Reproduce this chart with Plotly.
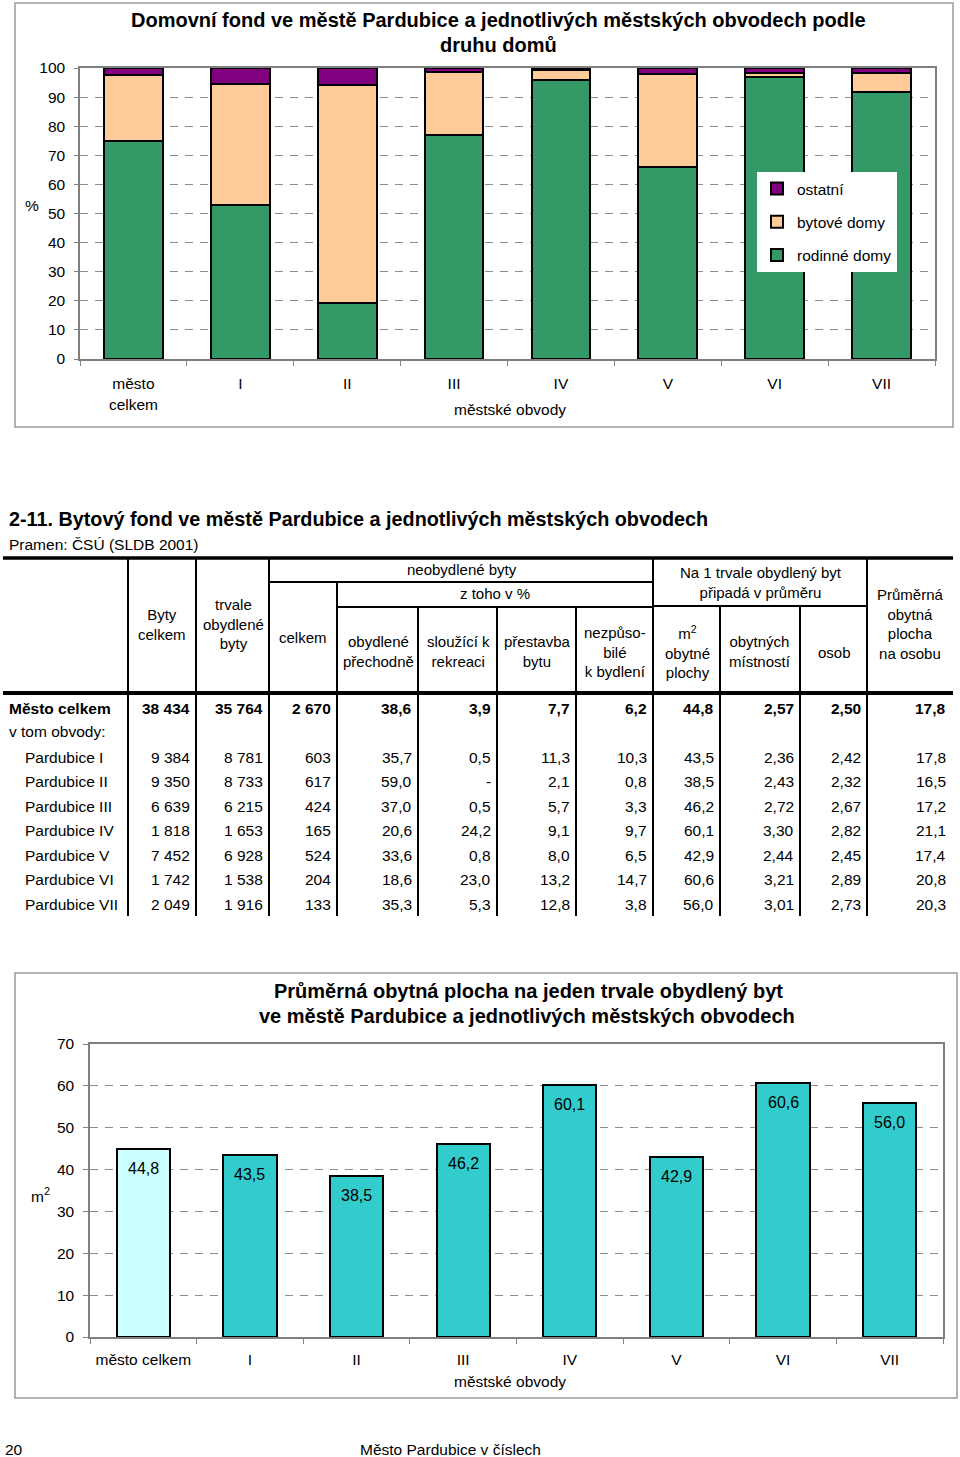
import plotly.graph_objects as go

W, H = 960, 1457
FONT = "Liberation Sans, Arial, sans-serif"

# ---------------- data: top chart (share of houses by type, %) ----------------
categories_top = ["město<br>celkem", "I", "II", "III", "IV", "V", "VI", "VII"]
rodinne_domy = [75.0, 52.8, 19.2, 77.1, 95.9, 66.1, 97.0, 91.6]
bytove_domy = [22.5, 41.6, 75.1, 21.6, 3.3, 31.7, 1.2, 6.8]
ostatni = [2.5, 5.6, 5.7, 1.3, 0.8, 2.2, 1.8, 1.6]
top_ticks = [0, 10, 20, 30, 40, 50, 60, 70, 80, 90, 100]

# ---------------- data: table 2-11 ----------------
row_labels = ["Město celkem", "v tom obvody:", "Pardubice I", "Pardubice II", "Pardubice III",
              "Pardubice IV", "Pardubice V", "Pardubice VI", "Pardubice VII"]
byty_celkem = [38434, 9384, 9350, 6639, 1818, 7452, 1742, 2049]
trvale_obydlene = [35764, 8781, 8733, 6215, 1653, 6928, 1538, 1916]
neobydlene_celkem = [2670, 603, 617, 424, 165, 524, 204, 133]
obydlene_prechodne = [38.6, 35.7, 59.0, 37.0, 20.6, 33.6, 18.6, 35.3]
slouzici_k_rekreaci = [3.9, 0.5, None, 0.5, 24.2, 0.8, 23.0, 5.3]
prestavba_bytu = [7.7, 11.3, 2.1, 5.7, 9.1, 8.0, 13.2, 12.8]
nezpusobile = [6.2, 10.3, 0.8, 3.3, 9.7, 6.5, 14.7, 3.8]
m2_obytne_plochy = [44.8, 43.5, 38.5, 46.2, 60.1, 42.9, 60.6, 56.0]
obytnych_mistnosti = [2.57, 2.36, 2.43, 2.72, 3.30, 2.44, 3.21, 3.01]
osob = [2.50, 2.42, 2.32, 2.67, 2.82, 2.45, 2.89, 2.73]
plocha_na_osobu = [17.8, 17.8, 16.5, 17.2, 21.1, 17.4, 20.8, 20.3]

# ---------------- data: bottom chart ----------------
categories_bottom = ["město celkem", "I", "II", "III", "IV", "V", "VI", "VII"]
bottom_values = m2_obytne_plochy
bottom_ticks = [0, 10, 20, 30, 40, 50, 60, 70]


def px(x):
    return x / W


def py(y):
    return 1 - y / H


def fmt_int(v):
    return f"{v:,}".replace(",", " ")


def fmt_dec(v, d):
    if v is None:
        return "-"
    return f"{v:.{d}f}".replace(".", ",")


fig = go.Figure()

# ---------------- top stacked bars ----------------
for name, vals, col, rank in [("rodinné domy", rodinne_domy, "#339966", 3),
                              ("bytové domy", bytove_domy, "#FFCC99", 2),
                              ("ostatní", ostatni, "#800080", 1)]:
    fig.add_trace(go.Bar(
        x=categories_top, y=vals, name=name, width=0.55,
        marker=dict(color=col, line=dict(color="black", width=2)),
        xaxis="x", yaxis="y", legendgroup=name, legendrank=rank, hoverinfo="skip"))

# ---------------- bottom bars ----------------
bottom_colors = ["#CCFFFF"] + ["#33CCCC"] * (len(bottom_values) - 1)
fig.add_trace(go.Bar(
    x=categories_bottom, y=bottom_values, width=0.5,
    marker=dict(color=bottom_colors, line=dict(color="black", width=2)),
    xaxis="x2", yaxis="y2", showlegend=False, hoverinfo="skip"))

axis_common = dict(showline=True, linecolor="#808080", linewidth=1.5, mirror=True,
                   automargin=False,
                   tickfont=dict(family=FONT, size=15.5, color="black"), fixedrange=True)

fig.update_layout(
    width=W, height=H, autosize=False,
    margin=dict(l=0, r=0, t=0, b=0, pad=0, autoexpand=False),
    paper_bgcolor="white", plot_bgcolor="white",
    font=dict(family=FONT, color="black"),
    barmode="stack",
    xaxis=dict(domain=[px(80), px(935)], anchor="y", type="category",
               tickson="boundaries", ticks="outside", ticklen=5, tickcolor="#808080",
               showgrid=False, ticklabelstandoff=10, **axis_common),
    yaxis=dict(domain=[py(359), py(68)], anchor="x", range=[0, 100],
               tickvals=top_ticks, ticks="outside", ticklen=4, tickcolor="#808080",
               showgrid=True, gridcolor="#8c8c8c", griddash="8px,7px", gridwidth=1,
               zeroline=False, ticklabelstandoff=6, **axis_common),
    xaxis2=dict(domain=[px(90), px(943)], anchor="y2", type="category",
                tickson="boundaries", ticks="outside", ticklen=5, tickcolor="#808080",
                showgrid=False, ticklabelstandoff=8, **axis_common),
    yaxis2=dict(domain=[py(1337), py(1044)], anchor="x2", range=[0, 70],
                tickvals=bottom_ticks, ticks="outside", ticklen=5, tickcolor="#808080",
                showgrid=True, gridcolor="#8c8c8c", griddash="8px,7px", gridwidth=1,
                zeroline=False, ticklabelstandoff=6, **axis_common),
    legend=dict(x=px(757), y=py(172), xanchor="left", yanchor="top",
                bgcolor="white", borderwidth=0, traceorder="grouped",
                tracegroupgap=10, font=dict(family=FONT, size=15.5, color="black"),
                itemwidth=30),
    showlegend=True,
)

shapes = []
ann = []

# value labels of bottom bars, placed through the data axes
for cat, v in zip(categories_bottom, bottom_values):
    ann.append(dict(x=cat, y=v, xref="x2", yref="y2", text=fmt_dec(v, 1),
                    showarrow=False, xanchor="center", yanchor="top", yshift=-9,
                    font=dict(family=FONT, size=16, color="black")))


def text(x, y, s, size=15.5, bold=False, xanchor="center"):
    if bold:
        s = f"<b>{s}</b>"
    ann.append(dict(x=px(x), y=py(y), xref="paper", yref="paper", text=s,
                    showarrow=False, xanchor=xanchor, yanchor="middle",
                    font=dict(family=FONT, size=size, color="black"), align="center"))


def line(x0, y0, x1, y1, w=2, color="black"):
    shapes.append(dict(type="line", xref="paper", yref="paper",
                       x0=px(x0), y0=py(y0), x1=px(x1), y1=py(y1),
                       line=dict(color=color, width=w)))


# chart frames
shapes.append(dict(type="rect", xref="paper", yref="paper", x0=px(15), y0=py(3), x1=px(953), y1=py(427),
                   line=dict(color="#9a9a9a", width=1.5), layer="below"))
shapes.append(dict(type="rect", xref="paper", yref="paper", x0=px(15), y0=py(973), x1=px(957), y1=py(1398),
                   line=dict(color="#9a9a9a", width=1.5), layer="below"))

# top chart texts
text(498, 20, "Domovní fond ve městě Pardubice a jednotlivých městských obvodech podle", size=20, bold=True)
text(498, 45, "druhu domů", size=20, bold=True)
text(32, 205, "%", size=15.5)
text(510, 409, "městské obvody", size=15.5)

# bottom chart texts
text(528, 991, "Průměrná obytná plocha na jeden trvale obydlený byt", size=20, bold=True)
text(527, 1016, "ve městě Pardubice a jednotlivých městských obvodech", size=20, bold=True)
text(40, 1195, "m<sup>2</sup>", size=15.5)
text(510, 1381, "městské obvody", size=15.5)

# ---------------- table ----------------
text(7, 519, "2-11. Bytový fond ve městě Pardubice a jednotlivých městských obvodech", size=19.8, bold=True, xanchor="left")
text(7, 544, "Pramen: ČSÚ (SLDB 2001)", size=15.5, xanchor="left")

TOP, HEAD_BOT, BOT = 558, 693, 916
line(3, TOP, 953, TOP, w=3.5)
line(3, HEAD_BOT, 953, HEAD_BOT, w=4)
line(269, 582, 653, 582)
line(337, 607, 653, 607)
line(653, 606, 867, 606)
for x, y0 in [(128, TOP), (196, TOP), (269, TOP), (337, 582), (418, 607), (497, 607),
              (576, 607), (653, TOP), (720, 606), (800, 606), (867, TOP)]:
    line(x, y0, x, BOT)

headers = [
    (162, 624, "Byty<br>celkem"),
    (233, 624, "trvale<br>obydlené<br>byty"),
    (303, 637, "celkem"),
    (378, 651, "obydlené<br>přechodně"),
    (458, 651, "sloužící k<br>rekreaci"),
    (537, 651, "přestavba<br>bytu"),
    (615, 652, "nezpůso-<br>bilé<br>k bydlení"),
    (462, 569, "neobydlené byty"),
    (495, 593, "z toho v %"),
    (761, 582, "Na 1 trvale obydlený byt<br>připadá v průměru"),
    (687, 652, "m<sup>2</sup><br>obytné<br>plochy"),
    (760, 651, "obytných<br>místností"),
    (834, 652, "osob"),
    (910, 624, "Průměrná<br>obytná<br>plocha<br>na osobu"),
]
for x, y, s in headers:
    text(x, y, s, size=15)

row_y = [708, 731, 757, 781, 806, 830, 855, 880, 904]
for i, (lab, y) in enumerate(zip(row_labels, row_y)):
    text(7 if i < 2 else 23, y, lab, size=15.5, bold=(i == 0), xanchor="left")

columns = [
    (192, byty_celkem, fmt_int),
    (265, trvale_obydlene, fmt_int),
    (333, neobydlene_celkem, fmt_int),
    (414, obydlene_prechodne, lambda v: fmt_dec(v, 1)),
    (493, slouzici_k_rekreaci, lambda v: fmt_dec(v, 1)),
    (572, prestavba_bytu, lambda v: fmt_dec(v, 1)),
    (649, nezpusobile, lambda v: fmt_dec(v, 1)),
    (716, m2_obytne_plochy, lambda v: fmt_dec(v, 1)),
    (796, obytnych_mistnosti, lambda v: fmt_dec(v, 2)),
    (863, osob, lambda v: fmt_dec(v, 2)),
    (948, plocha_na_osobu, lambda v: fmt_dec(v, 1)),
]
data_row_y = [row_y[0]] + row_y[2:]
for xr, vals, f in columns:
    for j, (v, y) in enumerate(zip(vals, data_row_y)):
        text(xr, y, f(v), size=15.5, bold=(j == 0), xanchor="right")

# footer
text(3, 1449, "20", size=15.5, xanchor="left")
text(358, 1449, "Město Pardubice v číslech", size=15.5, xanchor="left")

fig.update_layout(shapes=shapes, annotations=ann)
fig.write_html(
    "out.html",
    config={"displayModeBar": False},
    post_script=(
        "var d=document.getElementById('{plot_id}');"
        "d.style.position='absolute';d.style.left='0px';d.style.top='0px';"
        "document.documentElement.style.margin='0';document.body.style.margin='0';"
        "document.documentElement.style.overflow='hidden';document.body.style.overflow='hidden';"
        "document.body.style.height='1457px';document.documentElement.style.height='1457px';"
    ),
)
